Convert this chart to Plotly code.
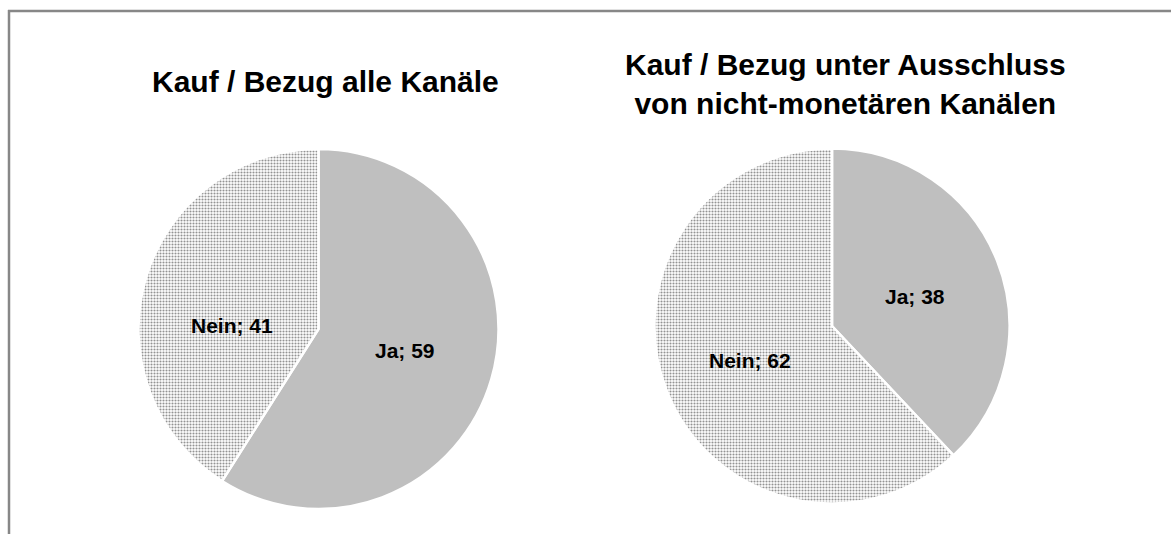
import plotly.graph_objects as go

W, H = 1171, 534

labels = ["Ja", "Nein"]
values_all = [59, 41]
values_monetary = [38, 62]
titles = ["Kauf / Bezug alle Kanäle",
          "Kauf / Bezug unter Ausschluss<br>von nicht-monetären Kanälen"]

def px(x):
    return x / W

def py(y):
    return 1 - y / H

FONT = "Liberation Sans, Arial, sans-serif"
solid = "#bfbfbf"
pattern = dict(shape=["", "."], fgcolor="#939393", bgcolor="white", size=3, solidity=0.4)

def pie(vals, cx, cy, r):
    return go.Pie(
        labels=labels, values=vals, sort=False, direction="clockwise", rotation=0,
        marker=dict(colors=[solid, "white"], line=dict(color="white", width=2.5), pattern=pattern),
        textinfo="none",
        domain=dict(x=[px(cx - r), px(cx + r)], y=[py(cy + r), py(cy - r)]),
        showlegend=False, hoverinfo="label+value",
    )

fig = go.Figure()
fig.add_trace(pie(values_all, 318.5, 329, 180))
fig.add_trace(pie(values_monetary, 832, 326, 177.5))

# slice labels
label_font = dict(family=FONT, size=21, color="black", weight="bold")
label_pos = [[(405, 350), (232, 325)], [(915, 296), (750, 360)]]
for vals, pos in zip([values_all, values_monetary], label_pos):
    for lab, v, (x, y) in zip(labels, vals, pos):
        fig.add_annotation(text=f"{lab}; {v}", x=px(x), y=py(y), xref="paper", yref="paper",
                           xanchor="center", yanchor="middle", showarrow=False, font=label_font)

title_font = dict(family=FONT, size=30, color="black", weight="bold")
fig.add_annotation(text=titles[0], x=px(325), y=py(82), xref="paper", yref="paper",
                   xanchor="center", yanchor="middle", showarrow=False, font=title_font)
fig.add_annotation(text=titles[1], x=px(845), y=py(84), xref="paper", yref="paper",
                   xanchor="center", yanchor="middle", showarrow=False, font=title_font)

fig.add_shape(type="line", xref="paper", yref="paper", x0=px(8), x1=1.01, y0=py(11), y1=py(11),
              line=dict(color="#878787", width=2.5))
fig.add_shape(type="line", xref="paper", yref="paper", x0=px(9), x1=px(9), y0=py(10), y1=-0.01,
              line=dict(color="#878787", width=2.5))

fig.update_layout(width=W, height=H, margin=dict(l=0, r=0, t=0, b=0),
                  paper_bgcolor="white", plot_bgcolor="white")

fig.write_html("out.html", config={"displayModeBar": False},
               post_script="document.body.style.margin='0';document.body.style.overflow='hidden';")
